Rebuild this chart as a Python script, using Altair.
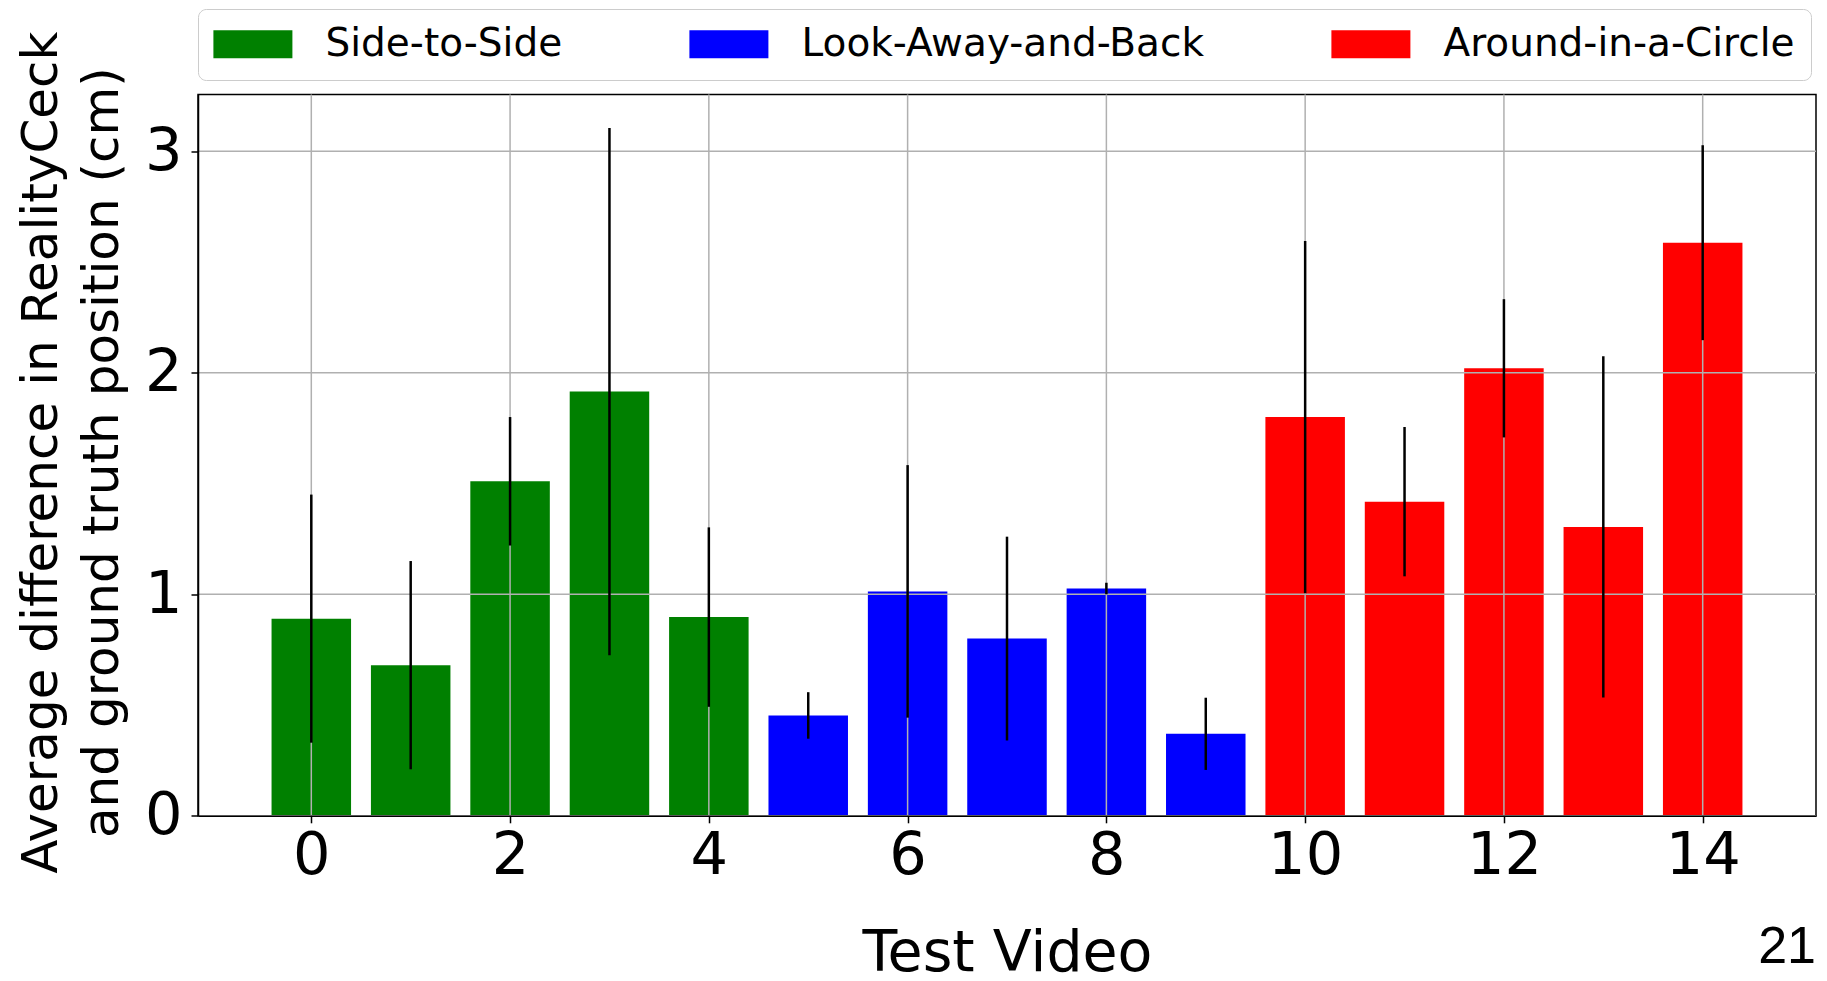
import altair as alt
import pandas as pd

# ---- data ----
videos = list(range(15))
groups = (["Side-to-Side"] * 5 + ["Look-Away-and-Back"] * 5 + ["Around-in-a-Circle"] * 5)
means = [0.89, 0.68, 1.51, 1.915, 0.897, 0.453, 1.013, 0.80, 1.026, 0.37,
         1.80, 1.418, 2.02, 1.304, 2.587]
errors = [0.56, 0.47, 0.29, 1.19, 0.405, 0.105, 0.57, 0.46, 0.026, 0.163,
          0.795, 0.337, 0.312, 0.77, 0.44]
group_order = ["Side-to-Side", "Look-Away-and-Back", "Around-in-a-Circle"]
group_colors = ["#008000", "#0000ff", "#ff0000"]
x_ticks = [0, 2, 4, 6, 8, 10, 12, 14]
y_ticks = [0, 1, 2, 3]
page_label = ["21"]

BAR_W = 0.8
df = pd.DataFrame({"video": videos, "group": groups, "mean": means, "err": errors})
df["x0"] = df["video"] - BAR_W / 2
df["x1"] = df["video"] + BAR_W / 2
df["base"] = 0.0
df["lo"] = df["mean"] - df["err"]
df["hi"] = df["mean"] + df["err"]

W, H = 1618, 721.3
FONT = "DejaVu Sans"

xscale = alt.Scale(domain=[-1.14, 15.14], nice=False, zero=False)
yscale = alt.Scale(domain=[0, 3.256], nice=False, zero=False)

x_axis = alt.Axis(values=x_ticks, title="Test Video", grid=False, zindex=1,
                  labelFontSize=59, labelFont=FONT, labelColor="black", labelPadding=4,
                  tickSize=7, tickWidth=1.5, tickColor="black",
                  domainColor="black", domainWidth=1.5,
                  titleFontSize=57, titleFont=FONT, titleFontWeight="normal",
                  titleColor="black", titleBaseline="alphabetic", titleX=809, titleY=155,
                  labelFlush=False, labelOverlap=False)
y_axis = alt.Axis(values=y_ticks, grid=False, zindex=1,
                  title=["Average difference in RealityCeck", "and ground truth position (cm)"],
                  labelFontSize=59, labelFont=FONT, labelColor="black", labelPadding=9,
                  tickSize=7, tickWidth=1.5, tickColor="black",
                  domainColor="black", domainWidth=1.5,
                  titleFontSize=50, titleFont=FONT, titleFontWeight="normal", titleColor="black",
                  titleLineHeight=62, titleAngle=270, titleAlign="center", titleBaseline="middle",
                  titleX=-157, titleY=H / 2 - 3, labelFlush=False, labelOverlap=False)

legend = alt.Legend(title=None, orient="none", legendX=0, legendY=-85.5, direction="horizontal",
                    symbolType="M-1.4,-1H4.243V1H-1.4Z", symbolSize=784, symbolStrokeWidth=0,
                    symbolOpacity=1, labelFontSize=39, labelFont=FONT, labelColor="black",
                    labelOffset=73, columnPadding=126, padding=15.5, fillColor="white",
                    strokeColor="#cccccc", cornerRadius=8, labelLimit=1000)

base = alt.Chart(df)

bars = base.mark_bar(opacity=1).encode(
    x=alt.X("x0:Q", scale=xscale, axis=x_axis),
    x2="x1:Q",
    y=alt.Y("mean:Q", scale=yscale, axis=y_axis),
    y2="base:Q",
    color=alt.Color("group:N", scale=alt.Scale(domain=group_order, range=group_colors),
                    legend=legend),
)

vgrid = alt.Chart(pd.DataFrame({"t": x_ticks})).mark_rule(color="#b0b0b0", strokeWidth=1.5).encode(
    x=alt.X("t:Q", scale=xscale, axis=x_axis)
)
hgrid = alt.Chart(pd.DataFrame({"t": y_ticks})).mark_rule(color="#b0b0b0", strokeWidth=1.5).encode(
    y=alt.Y("t:Q", scale=yscale, axis=y_axis)
)

errbars = base.mark_rule(color="black", strokeWidth=2.5).encode(
    x=alt.X("video:Q", scale=xscale, axis=x_axis),
    y=alt.Y("lo:Q", scale=yscale, axis=y_axis),
    y2="hi:Q",
)

page = alt.Chart(pd.DataFrame({"label": page_label})).mark_text(
    align="right", baseline="alphabetic", font="Liberation Sans", fontSize=52, color="black"
).encode(
    text="label:N",
    x=alt.value(W),
    y=alt.value(869),
)

chart = alt.layer(bars, vgrid, hgrid, errbars, page).properties(
    width=W, height=H,
    autosize=alt.AutoSizeParams(type="none"),
    padding={"left": 190, "top": 86.5, "right": 3, "bottom": 177},
).configure_view(
    stroke="black", strokeWidth=1.5
)

chart.save("out.html", embed_options={"renderer": "svg", "actions": False})
